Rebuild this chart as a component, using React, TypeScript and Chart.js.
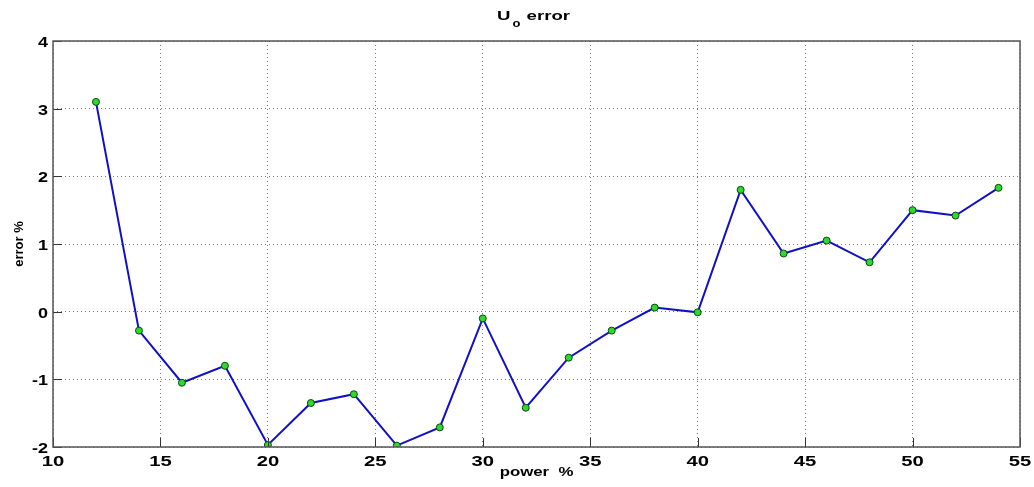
import React, { useEffect, useRef } from "react";
import { Chart, registerables } from "chart.js";

Chart.register(...registerables);

const powerValues = [12, 14, 16, 18, 20, 22, 24, 26, 28, 30, 32, 34, 36, 38, 40, 42, 44, 46, 48, 50, 52, 54];
const errorValues = [3.1, -0.28, -1.05, -0.8, -1.97, -1.35, -1.22, -1.98, -1.71, -0.1, -1.42, -0.68, -0.28, 0.06, -0.01, 1.8, 0.86, 1.05, 0.73, 1.5, 1.42, 1.83];
const xTicks = [10, 15, 20, 25, 30, 35, 40, 45, 50, 55];
const yTicks = [-2, -1, 0, 1, 2, 3, 4];
const titleMain = "U";
const titleSub = "o";
const titleRest = " error";
const xLabel = "power  %";
const yLabel = "error %";

const FONT = "'Liberation Sans', Arial, sans-serif";

function stretchText(ctx: CanvasRenderingContext2D, text: string, x: number, y: number, align: "left" | "center" | "right", sx: number) {
  const w = ctx.measureText(text).width * sx;
  let x0 = x;
  if (align === "center") x0 = x - w / 2;
  if (align === "right") x0 = x - w;
  ctx.save();
  ctx.translate(x0, y);
  ctx.scale(sx, 1);
  ctx.textAlign = "left";
  ctx.fillText(text, 0, 0);
  ctx.restore();
  return w;
}

const decorPlugin = {
  id: "decor",
  afterDraw(chart: any) {
    const { ctx, chartArea } = chart;
    const { left, right, top, bottom } = chartArea;
    const xs = chart.scales.x;
    const ys = chart.scales.y;
    ctx.save();
    // inner tick marks
    ctx.strokeStyle = "#333";
    ctx.lineWidth = 1;
    ctx.beginPath();
    xTicks.forEach((t) => {
      const px = Math.round(xs.getPixelForValue(t)) + 0.5;
      ctx.moveTo(px, bottom);
      ctx.lineTo(px, bottom - 9);
    });
    yTicks.forEach((t) => {
      const py = Math.round(ys.getPixelForValue(t)) + 0.5;
      ctx.moveTo(left, py);
      ctx.lineTo(left + 9, py);
    });
    ctx.stroke();
    // box
    ctx.strokeStyle = "#555";
    ctx.lineWidth = 1.5;
    ctx.strokeRect(left, top, right - left, bottom - top);

    ctx.fillStyle = "#000";
    ctx.textBaseline = "alphabetic";
    // tick labels
    ctx.font = `bold 15px ${FONT}`;
    xTicks.forEach((t) => {
      stretchText(ctx, String(t), xs.getPixelForValue(t), 466, "center", 1.35);
    });
    yTicks.forEach((t) => {
      stretchText(ctx, String(t), 48, ys.getPixelForValue(t) + 6, "right", 1.2);
    });
    // title
    ctx.font = `bold 12px ${FONT}`;
    const sx = 1.55;
    const wMain = ctx.measureText(titleMain).width * sx;
    const wRest = ctx.measureText(titleRest).width * sx;
    ctx.font = `bold 10px ${FONT}`;
    const wSub = ctx.measureText(titleSub).width * 1.3;
    const total = wMain + wSub + 3 + wRest;
    let tx = (left + right) / 2 - total / 2 - 3;
    ctx.font = `bold 12px ${FONT}`;
    stretchText(ctx, titleMain, tx, 20, "left", sx);
    tx += wMain + 2;
    ctx.font = `bold 10px ${FONT}`;
    stretchText(ctx, titleSub, tx, 27, "left", 1.3);
    tx += wSub + 1;
    ctx.font = `bold 12px ${FONT}`;
    stretchText(ctx, titleRest, tx, 20, "left", sx);
    // x label
    stretchText(ctx, xLabel, (left + right) / 2, 476, "center", 1.4);
    // y label
    ctx.font = `bold 13px ${FONT}`;
    ctx.translate(23, (top + bottom) / 2);
    ctx.rotate(-Math.PI / 2);
    ctx.textAlign = "center";
    ctx.fillText(yLabel, 0, 0);
    ctx.restore();
  },
};

export default function App() {
  const canvasRef = useRef<HTMLCanvasElement>(null);
  useEffect(() => {
    document.body.style.margin = "0";
    const canvas = canvasRef.current!;
    const chart = new Chart(canvas, {
      type: "line",
      data: {
        datasets: [
          {
            data: powerValues.map((x, i) => ({ x, y: errorValues[i] })),
            borderColor: "#1010c8",
            borderWidth: 2,
            pointRadius: 3.5,
            pointBackgroundColor: "#2ed82e",
            pointBorderColor: "#0a4a0a",
            pointBorderWidth: 1,
            tension: 0,
          },
        ],
      },
      options: {
        animation: false,
        responsive: false,
        maintainAspectRatio: false,
        layout: { padding: { left: 0, right: 14, top: 41, bottom: 0 } },
        plugins: { legend: { display: false }, tooltip: { enabled: false }, title: { display: false } },
        scales: {
          x: {
            type: "linear",
            min: 10,
            max: 55,
            afterFit: (s: any) => { s.height = 40; },
            afterBuildTicks: (s: any) => { s.ticks = xTicks.map((v) => ({ value: v })); },
            ticks: { display: false, autoSkip: false },
            grid: { color: "#777", lineWidth: 1, drawTicks: false },
            border: { display: false, dash: [1, 3] },
          },
          y: {
            type: "linear",
            min: -2,
            max: 4,
            afterFit: (s: any) => { s.width = 53; },
            afterBuildTicks: (s: any) => { s.ticks = yTicks.map((v) => ({ value: v })); },
            ticks: { display: false, autoSkip: false },
            grid: { color: "#777", lineWidth: 1, drawTicks: false },
            border: { display: false, dash: [1, 3] },
          },
        },
      },
      plugins: [decorPlugin],
    } as any);
    return () => chart.destroy();
  }, []);
  return (
    <div style={{ position: "absolute", left: 0, top: 0, width: 1034, height: 487, background: "#fff" }}>
      <canvas ref={canvasRef} width={1034} height={487} style={{ width: 1034, height: 487 }} />
    </div>
  );
}
